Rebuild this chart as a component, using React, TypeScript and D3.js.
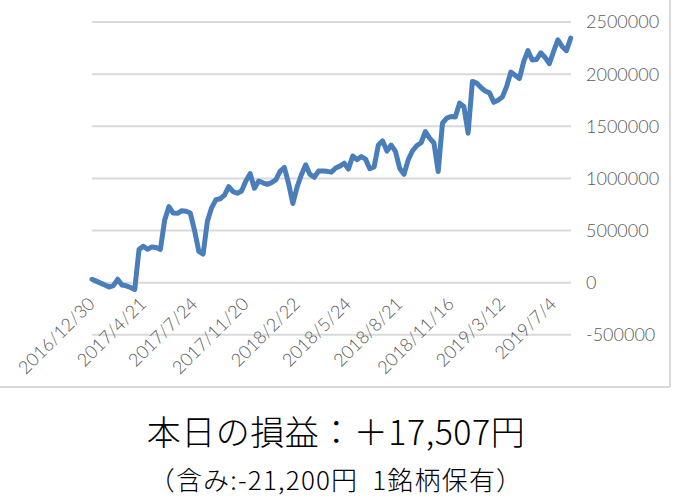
import * as d3 from 'd3';

// 日付ラベル(12件ごと)
const dateLabels = [
  '2016/12/30', '2017/4/21', '2017/7/24', '2017/11/20', '2018/2/22',
  '2018/5/24', '2018/8/21', '2018/11/16', '2019/3/12', '2019/7/4'
];
const labelEvery = 12;

const yTicks = [-500000, 0, 500000, 1000000, 1500000, 2000000, 2500000];

// 累計損益(円)
const profit = [
  33000, 15000, -4000, -23000, -42000, -29000, 33000, -22000, -30000, -45000,
  -65000, 318000, 350000, 320000, 343000, 337000, 320000, 600000, 729000, 668000,
  665000, 690000, 685000, 668000, 500000, 300000, 275000, 590000, 720000, 795000,
  805000, 840000, 921000, 873000, 858000, 880000, 975000, 1045000, 906000, 975000,
  958000, 943000, 960000, 986000, 1067000, 1105000, 950000, 760000, 920000, 1035000,
  1130000, 1038000, 1011000, 1070000, 1072000, 1068000, 1060000, 1100000, 1118000, 1146000,
  1090000, 1215000, 1180000, 1210000, 1185000, 1093000, 1110000, 1320000, 1360000, 1262000,
  1320000, 1260000, 1095000, 1040000, 1180000, 1265000, 1315000, 1342000, 1450000, 1386000,
  1340000, 1066000, 1530000, 1578000, 1594000, 1590000, 1722000, 1690000, 1434000, 1930000,
  1914000, 1872000, 1838000, 1820000, 1730000, 1750000, 1780000, 1880000, 2020000, 1990000,
  1958000, 2120000, 2225000, 2135000, 2140000, 2205000, 2160000, 2100000, 2217000, 2330000,
  2265000, 2225000, 2345000
];

const title = '本日の損益：＋17,507円';
const subtitle = '（含み:-21,200円\u00a0\u00a01銘柄保有）';

const W = 673;
const H = 502;

export default function App() {
  const x = d3.scaleLinear().domain([0, profit.length - 1]).range([92, 570.7]);
  const y = d3.scaleLinear().domain([0, 2500000]).range([282.7, 22]);

  const line = d3
    .line<number>()
    .x((_, i) => x(i))
    .y((d) => y(d));

  const axisFont = 'Lato, "Noto Sans", sans-serif';
  const jpFont = '"Noto Sans CJK JP", sans-serif';

  return (
    <svg
      width={W}
      height={H}
      style={{ position: 'absolute', left: 0, top: 0, background: '#fff' }}
    >
      {/* 枠線 (右・下のみ見える) */}
      <line x1={0} x2={670} y1={387} y2={387} stroke="#d9d9d9" strokeWidth={2} />
      <line x1={670} x2={670} y1={0} y2={387} stroke="#d9d9d9" strokeWidth={2} />

      {/* grid */}
      {yTicks.map((t) => (
        <line
          key={t}
          x1={92}
          x2={571}
          y1={y(t)}
          y2={y(t)}
          stroke="#d9d9d9"
          strokeWidth={2}
        />
      ))}

      {yTicks.map((t) => (
        <text
          key={'l' + t}
          x={586}
          y={y(t)}
          dy="0.36em"
          fontFamily={axisFont}
          fontWeight={300}
          fontSize={18}
          fill="#595959"
        >
          {t}
        </text>
      ))}

      {dateLabels.map((d, i) => {
        const tx = x(i * labelEvery) + 4;
        const ty = 305;
        return (
          <text
            key={d}
            transform={`translate(${tx},${ty}) rotate(-45)`}
            textAnchor="end"
            fontFamily={axisFont}
            fontWeight={300}
            fontSize={18}
            fill="#595959"
          >
            {d}
          </text>
        );
      })}

      <path
        d={line(profit) ?? ''}
        fill="none"
        stroke="#4a7ebb"
        strokeWidth={5}
        strokeLinejoin="round"
        strokeLinecap="round"
      />

      <text
        x={336}
        y={445}
        textAnchor="middle"
        fontFamily={jpFont}
        fontWeight={300}
        fontSize={34}
        letterSpacing={0.5}
        fill="#000"
      >
        {title}
      </text>
      <text
        x={336}
        y={490}
        textAnchor="middle"
        fontFamily={jpFont}
        fontWeight={300}
        fontSize={26}
        letterSpacing={1.2}
        fill="#000"
      >
        {subtitle}
      </text>
    </svg>
  );
}
